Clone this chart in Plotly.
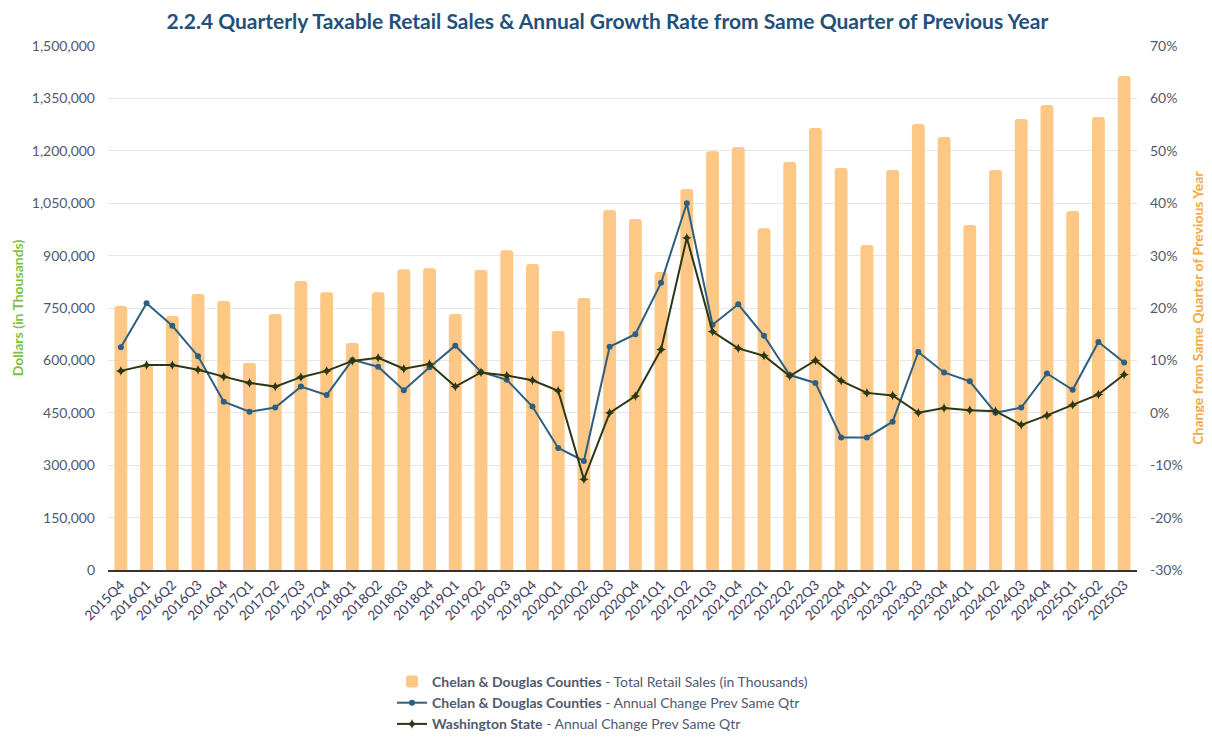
import plotly.graph_objects as go

quarters = ["2015Q4",
            "2016Q1", "2016Q2", "2016Q3", "2016Q4",
            "2017Q1", "2017Q2", "2017Q3", "2017Q4",
            "2018Q1", "2018Q2", "2018Q3", "2018Q4",
            "2019Q1", "2019Q2", "2019Q3", "2019Q4",
            "2020Q1", "2020Q2", "2020Q3", "2020Q4",
            "2021Q1", "2021Q2", "2021Q3", "2021Q4",
            "2022Q1", "2022Q2", "2022Q3", "2022Q4",
            "2023Q1", "2023Q2", "2023Q3", "2023Q4",
            "2024Q1", "2024Q2", "2024Q3", "2024Q4",
            "2025Q1", "2025Q2", "2025Q3"]

retail_sales = [755700, 587000, 727000, 790000, 770000,
                592600, 732800, 827000, 795000,
                649800, 795000, 860800, 863600,
                732800, 858800, 915000, 876000,
                684000, 778600, 1030500, 1004800,
                853000, 1090600, 1199000, 1211000,
                978000, 1168000, 1265000, 1150800,
                930000, 1145000, 1276700, 1239500,
                987600, 1145000, 1291000, 1331000,
                1027700, 1296800, 1414000]

chelan_change = [12.5, 20.9, 16.6, 10.8, 2.1,
                 0.2, 1.0, 5.0, 3.4,
                 10.1, 8.8, 4.3, 8.7,
                 12.8, 7.8, 6.3, 1.2,
                 -6.7, -9.2, 12.6, 15.0,
                 24.8, 40.0, 16.8, 20.7,
                 14.7, 7.2, 5.7, -4.7,
                 -4.7, -1.7, 11.6, 7.7,
                 6.0, 0.0, 1.0, 7.5,
                 4.4, 13.5, 9.6]

wa_change = [8.0, 9.1, 9.1, 8.2, 6.9,
             5.7, 5.0, 6.8, 8.0,
             9.9, 10.5, 8.4, 9.3,
             5.0, 7.7, 7.1, 6.2,
             4.2, -12.7, 0.0, 3.2,
             12.1, 33.4, 15.5, 12.3,
             10.9, 7.0, 10.0, 6.1,
             3.8, 3.3, 0.0, 0.9,
             0.5, 0.3, -2.3, -0.5,
             1.5, 3.5, 7.3]

left_ticks = [0, 150000, 300000, 450000, 600000, 750000, 900000,
              1050000, 1200000, 1350000, 1500000]
right_ticks = [-30, -20, -10, 0, 10, 20, 30, 40, 50, 60, 70]
right_labels = [f"{v}%" for v in right_ticks]

BAR = "#fdc886"
BLUE = "#2e5f80"
GREEN = "#2a3815"
TICK = "#505a6e"
FONT = "Lato"

fig = go.Figure()
fig.add_trace(go.Bar(
    x=quarters, y=retail_sales,
    name="<b>Chelan & Douglas Counties</b> - Total Retail Sales (in Thousands)",
    marker=dict(color=BAR, cornerradius=3, line=dict(width=0)),
    yaxis="y"))
fig.add_trace(go.Scatter(
    x=quarters, y=chelan_change, mode="lines+markers",
    name="<b>Chelan & Douglas Counties</b> - Annual Change Prev Same Qtr",
    line=dict(color=BLUE, width=2),
    marker=dict(color=BLUE, size=6, symbol="circle"),
    yaxis="y2"))
fig.add_trace(go.Scatter(
    x=quarters, y=wa_change, mode="lines+markers",
    name="<b>Washington State</b> - Annual Change Prev Same Qtr",
    line=dict(color=GREEN, width=2),
    marker=dict(color=GREEN, size=7, symbol="star-diamond"),
    yaxis="y2"))

fig.update_layout(
    width=1212, height=737,
    autosize=False,
    margin=dict(l=100, r=83, t=38, b=175, autoexpand=False),
    paper_bgcolor="white", plot_bgcolor="white",
    font=dict(family=FONT, color=TICK, size=14),
    title=dict(text="<b>2.2.4 Quarterly Taxable Retail Sales & Annual Growth Rate from Same Quarter of Previous Year</b>",
               x=0.4946, xref="container", xanchor="center",
               y=0.982, yref="container", yanchor="middle",
               font=dict(family=FONT, size=21, color="#22507a")),
    bargap=0.5,
    showlegend=True,
    legend=dict(orientation="v", x=0.276, xref="paper", xanchor="left",
                y=-0.183, yref="paper", yanchor="top",
                font=dict(family=FONT, size=14, color=TICK),
                traceorder="normal"),
    xaxis=dict(type="category", range=[-0.5, 39.5], tickangle=-45,
               showgrid=False,
               showline=True, linecolor="#333333", linewidth=1.5,
               tickfont=dict(family=FONT, size=13.5, color="#3d3d5c"),
               ticks="", automargin=False, domain=[0, 1]),
    yaxis=dict(range=[0, 1500000], tickvals=left_ticks, tickformat=",",
               showgrid=True, gridcolor="#e6e6e6", gridwidth=1,
               zeroline=False, showline=False, automargin=False,
               ticklabelstandoff=12,
               tickfont=dict(family=FONT, size=14, color=TICK),
               title=dict(text="<b>Dollars (in Thousands)</b>",
                          font=dict(family=FONT, size=14, color="#7cc242"),
                          standoff=4)),
    yaxis2=dict(range=[-30, 70], tickvals=right_ticks, ticktext=right_labels,
                overlaying="y", side="right", showgrid=False,
                zeroline=False, showline=False, automargin=False,
                ticklabelstandoff=12,
                tickfont=dict(family=FONT, size=14, color=TICK),
                title=dict(text="<b>Change from Same Quarter of Previous Year</b>",
                           font=dict(family=FONT, size=14, color="#f5a843"),
                           standoff=11)),
)

fig.write_html("out.html")
